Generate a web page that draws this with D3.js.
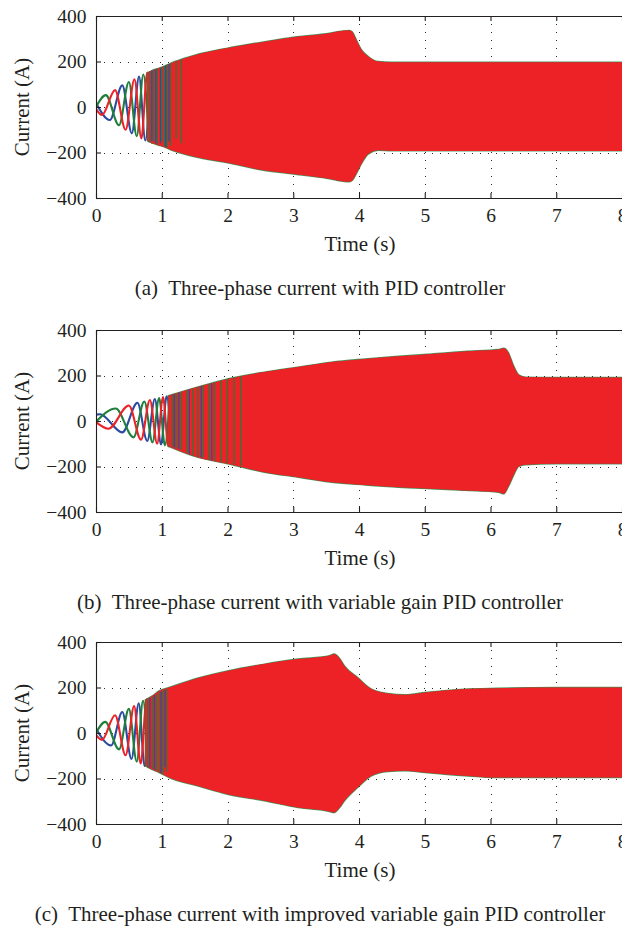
<!DOCTYPE html>
<html><head><meta charset="utf-8">
<script src="https://cdn.jsdelivr.net/npm/d3@7/dist/d3.min.js"></script>
<style>
html,body{margin:0;padding:0;background:#fff;}
svg text{font-family:"Liberation Serif","Tinos","Times New Roman","DejaVu Serif",serif;}
</style>
</head><body>
<svg id="chart" width="622" height="928"></svg>
<script>
// ---------- axis ticks ----------
const xTicks = [0,1,2,3,4,5,6,7,8];
const yTicks = [-400,-200,0,200,400];
const xLabel = "Time (s)";
const yLabel = "Current (A)";
const captions = [
  "(a)  Three-phase current with PID controller",
  "(b)  Three-phase current with variable gain PID controller",
  "(c)  Three-phase current with improved variable gain PID controller"
];

// ---------- panel (a) ----------
// early visible oscillation extrema per phase [time s, current A]
const aRed   = [[0,-8],[0.09,-35],[0.29,74],[0.45,-100],[0.585,122],[0.69,-138],[0.78,151],[0.855,-161]];
const aGreen = [[0,0],[0.15,52],[0.35,-80],[0.50,110],[0.62,-128],[0.72,143],[0.805,-155]];
const aBlue  = [[0,18],[0.21,-57],[0.40,95],[0.545,-116],[0.655,134],[0.75,-147],[0.83,158]];
// envelope of dense oscillation
const aEnvT  = [0.78,0.85,0.95,1.0,1.2,1.5,2.0,2.5,3.0,3.5,3.85,3.9,3.96,4.04,4.14,4.29,4.5,5,6,7,8];
const aEnvHi = [150,160,170,175,200,228,259,284,307,322,337,330,295,251,222,200,197,197,197,197,197];
const aEnvLo = [-148,-158,-168,-172,-195,-219,-245,-276,-295,-313,-329,-322,-293,-248,-207,-190,-193,-193,-193,-193,-193];
// visible green / blue stripes inside band [time, hi, lo]
const aStripesG = [[0.82,156,-154],[0.88,164,-150],[0.93,168,-166],[1.00,176,-150],[1.04,180,-172],[1.08,186,-178],[1.13,192,-170],[1.22,200,-140],[1.3,210,-160]];
const aStripesB = [[0.85,160,-150],[0.91,166,-160],[0.98,170,-160],[1.06,182,-176],[1.11,188,-150]];

// ---------- panel (b) ----------
const bRed   = [[0,-5],[0.19,-34],[0.50,68],[0.685,-82],[0.82,92],[0.93,-99],[1.02,105],[1.10,-111],[1.175,117]];
const bGreen = [[0,-3],[0.30,55],[0.57,-72],[0.735,86],[0.86,-94],[0.96,101],[1.048,-107],[1.125,113]];
const bBlue  = [[0,28],[0.06,30],[0.40,-50],[0.63,80],[0.78,-88],[0.895,97],[0.99,-103],[1.075,109],[1.15,-115]];
const bEnvT  = [1.1,1.54,2.0,2.56,3.07,3.58,4.09,4.6,5.1,5.6,6.12,6.2,6.27,6.35,6.43,6.53,7,8];
const bEnvHi = [111,149,185,215,237,259,273,285,295,306,314,320,302,244,203,193,191,191];
const bEnvLo = [-111,-159,-188,-225,-247,-269,-281,-291,-298,-305,-313,-320,-290,-240,-200,-192,-188,-188];
const bStripesG = [[1.16,116,-112],[1.22,122,-120],[1.3,128,-125],[1.38,135,-140],[1.47,142,-150],[1.55,150,-158],[1.63,156,-162],[1.72,163,-170],[1.8,170,-175],[1.9,178,-180],[2.0,185,-186],[2.1,192,-190],[2.2,198,-196]];
const bStripesB = [[1.19,118,-116],[1.26,125,-122],[1.42,138,-146],[1.6,154,-160],[1.76,166,-172]];

// ---------- panel (c) ----------
const cRed   = [[0,-8],[0.09,-30],[0.29,78],[0.45,-98],[0.58,118],[0.68,-134],[0.77,148],[0.845,-158]];
const cGreen = [[0,0],[0.14,49],[0.35,-72],[0.50,106],[0.62,-126],[0.715,141],[0.80,-153]];
const cBlue  = [[0,20],[0.23,-55],[0.40,92],[0.54,-114],[0.65,131],[0.74,-145],[0.825,156]];
const cEnvT  = [0.75,0.85,0.96,1.11,1.54,2.0,2.56,3.07,3.55,3.62,3.7,3.78,3.98,4.19,4.44,4.7,5.0,5.6,6.1,7,8];
const cEnvHi = [146,162,185,200,241,273,303,325,340,347,330,295,244,193,174,168,178,193,197,200,200];
const cEnvLo = [-144,-160,-174,-196,-232,-269,-298,-328,-345,-350,-330,-298,-240,-188,-169,-166,-174,-188,-196,-196,-196];
const cStripesG = [[0.79,150,-150],[0.86,160,-158],[0.92,170,-166],[0.97,180,-172],[1.02,188,-180],[1.07,195,-170]];
const cStripesB = [[0.82,154,-152],[0.89,166,-162],[0.99,182,-176],[1.05,190,-150]];

// ---------- drawing ----------
const RED = "#ec2227", GREEN = "#1f7f3b", BLUE = "#2c4a9f", INK = "#231f20";
const svg = d3.select("#chart");
const X0 = 96, X1 = 622, PH = 182;
const panels = [
  {top:16,  r:aRed, g:aGreen, b:aBlue, t:aEnvT, hi:aEnvHi, lo:aEnvLo, sg:aStripesG, sb:aStripesB, cap:captions[0]},
  {top:330, r:bRed, g:bGreen, b:bBlue, t:bEnvT, hi:bEnvHi, lo:bEnvLo, sg:bStripesG, sb:bStripesB, cap:captions[1]},
  {top:642, r:cRed, g:cGreen, b:cBlue, t:cEnvT, hi:cEnvHi, lo:cEnvLo, sg:cStripesG, sb:cStripesB, cap:captions[2]}
];
const SERIF = "'Liberation Serif','Tinos','Times New Roman','DejaVu Serif',serif";

panels.forEach((p, i) => {
  const x = d3.scaleLinear().domain([0,8]).range([X0, X1]);
  const y = d3.scaleLinear().domain([-400,400]).range([p.top + PH, p.top]);
  const g = svg.append("g");
  const clipId = "clip" + i;
  svg.append("clipPath").attr("id", clipId).append("rect")
    .attr("x", X0).attr("y", p.top).attr("width", X1 - X0).attr("height", PH);

  // grid
  const grid = g.append("g").attr("stroke", "#000").attr("stroke-width", 1)
    .attr("stroke-dasharray", "1,7").attr("opacity", 0.85);
  grid.selectAll("line.v").data(xTicks.slice(1, -1)).join("line")
    .attr("x1", d => Math.round(x(d)) + 0.5).attr("x2", d => Math.round(x(d)) + 0.5)
    .attr("y1", p.top).attr("y2", p.top + PH);
  grid.selectAll("line.h").data(yTicks.slice(1, -1)).join("line")
    .attr("y1", d => Math.round(y(d)) + 0.5).attr("y2", d => Math.round(y(d)) + 0.5)
    .attr("x1", X0).attr("x2", X1);

  const data = g.append("g").attr("clip-path", `url(#${clipId})`);
  const line = d3.line().x(d => x(d[0])).y(d => y(d[1])).curve(d3.curveMonotoneX);
  [[p.b, BLUE], [p.g, GREEN], [p.r, RED]].forEach(([arr, col]) => {
    data.append("path").attr("d", line(arr)).attr("fill", "none")
      .attr("stroke", col).attr("stroke-width", 2.1).attr("stroke-linejoin", "round");
  });

  const env = p.t.map((t, k) => ({t, hi: p.hi[k], lo: p.lo[k]}));
  const area = d3.area().x(d => x(d.t)).y0(d => y(d.lo)).y1(d => y(d.hi)).curve(d3.curveMonotoneX);
  data.append("path").attr("d", area(env)).attr("fill", RED)
    .attr("stroke", GREEN).attr("stroke-width", 1.4).attr("stroke-opacity", 0.8);
  data.append("path").attr("d", area(env)).attr("fill", RED);

  [[p.sg, GREEN], [p.sb, BLUE]].forEach(([arr, col]) => {
    data.selectAll(null).data(arr).join("line")
      .attr("x1", d => x(d[0])).attr("x2", d => x(d[0]))
      .attr("y1", d => y(d[1])).attr("y2", d => y(d[2]))
      .attr("stroke", col).attr("stroke-width", 1.2);
  });

  // axes
  const fs = 19.5;
  const ax = g.append("g").attr("transform", `translate(0,${p.top + PH})`)
    .call(d3.axisBottom(x).tickValues(xTicks).tickSizeInner(-5).tickSizeOuter(0).tickPadding(10).tickFormat(d3.format("d")));
  const axT = g.append("g").attr("transform", `translate(0,${p.top})`)
    .call(d3.axisTop(x).tickValues(xTicks).tickSizeInner(-5).tickSizeOuter(0).tickFormat(""));
  const ay = g.append("g").attr("transform", `translate(${X0},0)`)
    .call(d3.axisLeft(y).tickValues(yTicks).tickSizeInner(-5).tickSizeOuter(0).tickPadding(9.5).tickFormat(d3.format("d")));
  [ax, axT, ay].forEach(a => {
    a.attr("font-family", SERIF).attr("font-size", fs);
    a.selectAll("text").style("font-family", SERIF).attr("font-size", fs).attr("fill", INK);
    a.selectAll("line,path").attr("stroke", INK).attr("stroke-width", 1.1);
  });

  g.append("text").attr("x", (X0 + X1) / 2 + 1).attr("y", p.top + PH + 53)
    .style("font-family", SERIF)
    .attr("text-anchor", "middle").attr("font-size", 21).attr("fill", INK).text(xLabel);
  g.append("text").attr("transform", `translate(29,${p.top + PH / 2}) rotate(-90)`)
    .style("font-family", SERIF)
    .attr("text-anchor", "middle").attr("font-size", 21).attr("fill", INK).text(yLabel);
  g.append("text").attr("x", 320).attr("y", p.top + PH + 97)
    .style("font-family", SERIF)
    .attr("text-anchor", "middle").attr("font-size", 21).attr("fill", INK)
    .style("white-space", "pre").text(p.cap);
});
</script>
</body></html>
